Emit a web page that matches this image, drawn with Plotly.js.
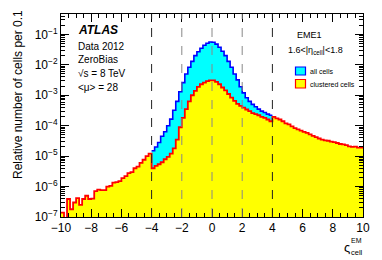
<!DOCTYPE html>
<html><head><meta charset="utf-8">
<script src="https://cdn.plot.ly/plotly-3.0.1.min.js"></script>
<style>html,body{margin:0;padding:0;background:#fff}#chart{width:382px;height:260px}</style>
</head><body><div id="chart"></div>
<script>
// Bin width of the histograms (in units of zeta)
const binWidth = 0.2;
// "clustered cells": bins from -10 to 10
const clusteredStart = -10;
const clusteredCells = [
  1.4e-7, 6.3e-8, 3.9e-7, 1.8e-7, 3.0e-7, 4.2e-7, 2.5e-7, 3.9e-7, 5.0e-7, 3.9e-7,
  4.0e-7, 7.1e-7, 7.9e-7, 7.6e-7, 7.6e-7, 1.0e-6, 1.05e-6, 1.35e-6, 1.4e-6, 1.5e-6,
  1.9e-6, 2.2e-6, 2.75e-6, 3.0e-6, 4.0e-6, 4.5e-6, 6.0e-6, 7.6e-6, 1.0e-5, 1.2e-5,
  4.0e-6, 4.8e-6, 5.4e-6, 6.3e-6, 7.9e-6, 9.5e-6, 1.2e-5, 1.8e-5, 3.5e-5, 8.9e-5,
  1.8e-4, 3.5e-4, 6.3e-4, 1.0e-3, 1.4e-3, 1.9e-3, 2.3e-3, 2.6e-3, 2.9e-3, 3.1e-3,
  3.1e-3, 2.75e-3, 2.3e-3, 1.8e-3, 1.45e-3, 1.1e-3, 8.3e-4, 6.5e-4, 5.2e-4, 4.5e-4,
  3.9e-4, 3.4e-4, 3.0e-4, 2.6e-4, 2.4e-4, 2.2e-4, 1.95e-4, 1.8e-4, 1.6e-4, 1.4e-4,
  1.95e-4, 1.75e-4, 1.6e-4, 1.4e-4, 1.2e-4, 1.1e-4, 9.5e-5, 8.3e-5, 7.6e-5, 6.9e-5,
  6.3e-5, 5.8e-5, 5.2e-5, 4.6e-5, 4.2e-5, 3.8e-5, 3.5e-5, 3.3e-5, 3.2e-5, 3.0e-5,
  2.9e-5, 2.7e-5, 2.5e-5, 2.45e-5, 2.3e-5, 2.1e-5, 2.0e-5, 2.05e-5, 1.9e-5, 1.9e-5
];
// "all cells": bins from -4 to 4 (outside, identical to clustered cells)
const allCellsStart = -4;
const allCells = [
  1.5e-5, 2.0e-5, 2.8e-5, 4.5e-5, 6.3e-5, 1.0e-4, 1.65e-4, 3.2e-4, 6.3e-4, 1.3e-3,
  2.6e-3, 5.0e-3, 8.3e-3, 1.3e-2, 2.0e-2, 2.7e-2, 3.5e-2, 4.4e-2, 5.1e-2, 5.6e-2,
  5.5e-2, 4.8e-2, 3.8e-2, 2.8e-2, 2.0e-2, 1.3e-2, 8.3e-3, 5.0e-3, 3.2e-3, 1.9e-3,
  1.2e-3, 8.3e-4, 6.3e-4, 5.0e-4, 4.2e-4, 3.5e-4, 3.0e-4, 2.7e-4, 2.4e-4, 2.2e-4
];
const seriesNames = ['all cells', 'clustered cells'];
const xTickVals = [-10, -8, -6, -4, -2, 0, 2, 4, 6, 8, 10];
const cutLines = [-4, -2, 0, 2, 4];
const yTickVals = [1e-7, 1e-6, 1e-5, 1e-4, 1e-3, 1e-2, 1e-1];
const yTickText = ['10<sup>−7</sup>', '10<sup>−6</sup>', '10<sup>−5</sup>', '10<sup>−4</sup>',
                   '10<sup>−3</sup>', '10<sup>−2</sup>', '10<sup>−1</sup>'];

function steps(start, vals) {
  const x = [], y = [];
  vals.forEach((v, i) => { x.push(Math.round((start + i * binWidth) * 10) / 10); y.push(v); });
  x.push(Math.round((start + vals.length * binWidth) * 10) / 10);
  y.push(vals[vals.length - 1]);
  return {x, y};
}
const sAll = steps(allCellsStart, allCells);
const sCl = steps(clusteredStart, clusteredCells);

const FONT = 'Liberation Sans, Arial, sans-serif';
const traces = [
  {x: sAll.x, y: sAll.y, name: seriesNames[0], type: 'scatter', mode: 'lines',
   line: {shape: 'hv', color: '#0000ff', width: 1.6}, fill: 'tozeroy', fillcolor: '#00ffff', showlegend: false},
  {x: sCl.x, y: sCl.y, name: seriesNames[1], type: 'scatter', mode: 'lines',
   line: {shape: 'hv', color: '#ff0000', width: 1.8}, fill: 'tozeroy', fillcolor: '#ffff00', showlegend: false}
];

// paper coords helpers for the plot box: x 61..363, y 14..217
const px = v => (v - 61) / 302;
const py = v => (217 - v) / 203;

const shapes = cutLines.map(c => ({
  type: 'line', xref: 'x', yref: 'paper', x0: c, x1: c, y0: 0, y1: 1, layer: 'above',
  line: {color: Math.abs(c) === 4 ? '#222' : '#888', width: 1, dash: 'dash'}
}));
shapes.push({type: 'rect', xref: 'paper', yref: 'paper', x0: px(295.5), x1: px(305.5), y0: py(75), y1: py(67),
  fillcolor: '#00ffff', line: {color: '#0000ff', width: 1.2}, layer: 'above'});
shapes.push({type: 'rect', xref: 'paper', yref: 'paper', x0: px(295.5), x1: px(305.5), y0: py(88), y1: py(79.5),
  fillcolor: '#ffff00', line: {color: '#ff0000', width: 1.2}, layer: 'above'});

function ann(text, x, y, size, opts) {
  return Object.assign({text, xref: 'paper', yref: 'paper', x: px(x), y: py(y), showarrow: false,
    xanchor: 'left', yanchor: 'middle', font: {family: FONT, size, color: '#000'}}, opts || {});
}
const annotations = [
  ann('<b><i>ATLAS</i></b>', 76, 30, 12),
  ann('Data 2012', 76, 46, 10),
  ann('ZeroBias', 76, 60, 10),
  ann('√s = 8 TeV', 76, 73, 10),
  ann('&lt;μ&gt; = 28', 76, 87, 10),
  ann('EME1', 309.5, 35, 9, {xanchor: 'center'}),
  ann('1.6&lt;|η<sub>cell</sub>|&lt;1.8', 315, 50, 9, {xanchor: 'center'}),
  ann(seriesNames[0], 308, 71, 7),
  ann(seriesNames[1], 308, 84, 7),
  ann('Relative number of cells per 0.1', 18, 95, 12, {xanchor: 'center', textangle: -90}),
  ann('ς', 347, 247, 13, {xanchor: 'center'}),
  ann('EM', 356, 240, 7, {xanchor: 'center'}),
  ann('cell', 357, 252, 7.5, {xanchor: 'center'})
];

const layout = {
  width: 382, height: 260,
  margin: {l: 61, r: 19, t: 14, b: 43, pad: 0},
  paper_bgcolor: '#fff', plot_bgcolor: '#fff',
  font: {family: FONT, size: 12, color: '#000'},
  showlegend: false,
  xaxis: {range: [-10, 10], tickmode: 'array', tickvals: xTickVals, ticks: 'inside', ticklen: 8,
    tickcolor: '#000', showline: true, linecolor: '#000', linewidth: 1, mirror: 'ticks',
    showgrid: false, zeroline: false, tickfont: {family: FONT, size: 12},
    minor: {dtick: 0.5, tick0: 0, ticks: 'inside', ticklen: 4, tickcolor: '#000', showgrid: false}},
  yaxis: {type: 'log', range: [-7, -0.33], tickmode: 'array', tickvals: yTickVals, ticktext: yTickText,
    ticks: 'inside', ticklen: 8, tickcolor: '#000', showline: true, linecolor: '#000', linewidth: 1,
    mirror: 'ticks', showgrid: false, zeroline: false, tickfont: {family: FONT, size: 12},
    minor: {dtick: 'D1', ticks: 'inside', ticklen: 4, tickcolor: '#000', showgrid: false}},
  shapes, annotations
};
Plotly.newPlot('chart', traces, layout, {staticPlot: true, displayModeBar: false});
</script></body></html>
